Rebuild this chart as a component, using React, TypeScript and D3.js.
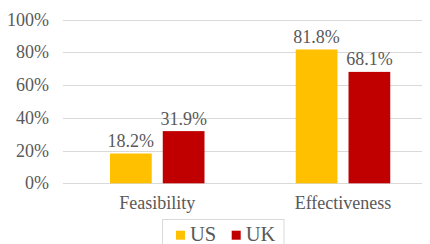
import React from "react";
import * as d3 from "d3";

const categories = ["Feasibility", "Effectiveness"];
const seriesNames = ["US", "UK"];
const usValues = [18.2, 81.8];
const ukValues = [31.9, 68.1];
const yTicks = [0, 20, 40, 60, 80, 100];
const colors = ["#FFC000", "#C00000"];

const W = 430;
const H = 244;
const TEXT = "#595959";
const GRID = "#D9D9D9";

export default function App() {
  const y = d3.scaleLinear().domain([0, 100]).range([183.3, 19.7]);
  const x0 = d3.scaleBand<string>().domain(categories).range([64, 435.5]).padding(0);
  const x1 = d3
    .scaleBand<string>()
    .domain(seriesNames)
    .range([46, 140.5])
    .paddingInner(0.209)
    .paddingOuter(0);
  const data = [usValues, ukValues];
  const fmt = (v: number) => v.toFixed(1) + "%";

  const texts: { x: number; y: number; s: string; anchor: string; size: number }[] = [];
  yTicks.forEach((t) => texts.push({ x: 49, y: y(t) + 6, s: t + "%", anchor: "end", size: 18 }));
  categories.forEach((c, ci) => {
    seriesNames.forEach((s, si) => {
      const v = data[si][ci];
      const bx = (x0(c) as number) + (x1(s) as number);
      texts.push({ x: bx + x1.bandwidth() / 2, y: y(v) - 6.5, s: fmt(v), anchor: "middle", size: 18 });
    });
    texts.push({ x: (x0(c) as number) + 46 + 94.5 / 2, y: 209, s: c, anchor: "middle", size: 18 });
  });
  seriesNames.forEach((s, i) => {
    const lx = i === 0 ? 176 : 231.7;
    texts.push({ x: lx + 14, y: 240.5, s, anchor: "start", size: 20.5 });
  });

  return (
    <svg width={W} height={H + 8} style={{ display: "block", marginLeft: -8, marginTop: -8 }}>
      {yTicks.map((t) => (
        <line
          key={"g" + t}
          x1={63}
          x2={W}
          y1={Math.round(y(t)) + 0.5}
          y2={Math.round(y(t)) + 0.5}
          stroke={GRID}
          strokeWidth={1}
        />
      ))}
      {categories.map((c, ci) =>
        seriesNames.map((s, si) => {
          const v = data[si][ci];
          const bx = (x0(c) as number) + (x1(s) as number);
          return (
            <rect
              key={c + s}
              x={bx}
              y={y(v)}
              width={x1.bandwidth()}
              height={y(0) - y(v)}
              fill={colors[si]}
            />
          );
        })
      )}
      <rect x={162.5} y={219.5} width={121.5} height={40} fill="none" stroke={GRID} strokeWidth={1} />
      {seriesNames.map((s, i) => (
        <rect key={"l" + s} x={i === 0 ? 176 : 231.7} y={230.7} width={9} height={9} fill={colors[i]} />
      ))}
      {texts.map((d, i) => (
        <text
          key={"t" + i}
          x={d.x}
          y={d.y}
          fontSize={d.size}
          textAnchor={d.anchor}
          fill={TEXT}
          style={{ fontFamily: `"Times New Roman"` }}
        >
          {d.s}
        </text>
      ))}
    </svg>
  );
}
